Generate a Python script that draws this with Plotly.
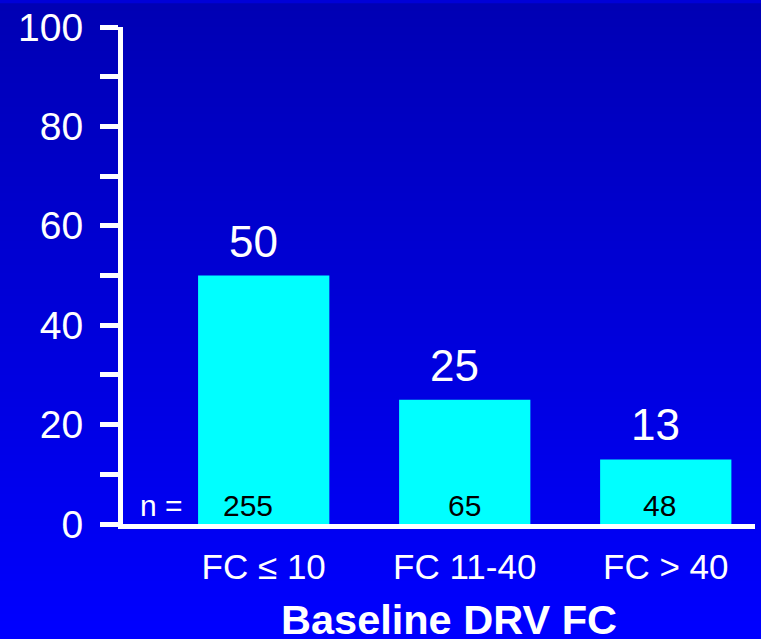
import plotly.graph_objects as go

# ---- data ----
categories = ["FC \u2264 10", "FC 11-40", "FC > 40"]
percent = [50, 25, 13]
n_values = [255, 65, 48]
y_tick_vals = list(range(0, 101, 10))
y_tick_text = [str(v) if v % 20 == 0 else "" for v in y_tick_vals]
x_title = "Baseline DRV FC"
n_prefix = "n ="

# label nudges (style only, pixels)
n_label_shift = [-16, 0, -6]
value_label_shift = -10

FONT = "Arial, Liberation Sans, sans-serif"
W, H = 761, 639
ML, MR, MT, MB = 123, 6, 23, 115
PW, PH = W - ML - MR, H - MT - MB

fig = go.Figure()
fig.add_trace(go.Bar(
    x=categories, y=percent,
    marker=dict(color="#00FFFF", line=dict(width=0)),
    width=0.653, hoverinfo="x+y",
))

# gradient background bands (paper coordinates)
nb = 80
top_c, bot_c = 0xB4, 0xFF
y_top = 1 + MT / PH
y_bot = -MB / PH
shapes = []
for i in range(nb):
    f0 = i / nb
    f1 = (i + 1) / nb
    c = int(round(top_c + (bot_c - top_c) * (i + 0.5) / nb))
    shapes.append(dict(
        type="rect", xref="paper", yref="paper",
        x0=-ML / PW - 0.01, x1=1 + MR / PW + 0.01,
        y0=y_top - (y_top - y_bot) * f1 - 0.002,
        y1=y_top - (y_top - y_bot) * f0 + 0.002,
        fillcolor=f"rgb(0,0,{c})", line=dict(width=0), layer="below",
    ))

annotations = []
for cat, v in zip(categories, percent):
    annotations.append(dict(
        x=cat, y=v, xref="x", yref="y", text=str(v), showarrow=False,
        xanchor="center", yanchor="bottom", yshift=8, xshift=value_label_shift,
        font=dict(family=FONT, size=44, color="white"),
    ))
for cat, n, dx in zip(categories, n_values, n_label_shift):
    annotations.append(dict(
        x=cat, y=0, xref="x", yref="y", text=str(n), showarrow=False,
        xanchor="center", yanchor="bottom", yshift=0, xshift=dx,
        font=dict(family=FONT, size=30, color="black"),
    ))
annotations.append(dict(
    x=(161 - ML) / PW, y=0, xref="paper", yref="y", text=n_prefix,
    showarrow=False, xanchor="center", yanchor="bottom", yshift=0,
    font=dict(family=FONT, size=30, color="white"),
))
annotations.append(dict(
    x=(449 - ML) / PW, y=(MT + PH - 620) / PH, xref="paper", yref="paper",
    text=f"<b>{x_title}</b>", showarrow=False, xanchor="center", yanchor="middle",
    font=dict(family=FONT, size=41.5, color="white"),
))

fig.update_layout(
    width=W, height=H, autosize=False,
    margin=dict(l=ML, r=MR, t=MT, b=MB, pad=0),
    paper_bgcolor="#0000D8", plot_bgcolor="rgba(0,0,0,0)",
    showlegend=False, bargap=0.3,
    shapes=shapes, annotations=annotations,
    font=dict(family=FONT, color="white"),
)
fig.update_xaxes(
    type="category", range=[-0.70, 2.444],
    showline=True, linecolor="white", linewidth=5,
    ticks="", showgrid=False, zeroline=False,
    tickfont=dict(family=FONT, size=35, color="white"),
    ticklabelstandoff=8,
)
fig.update_yaxes(
    range=[0, 100], tickvals=y_tick_vals, ticktext=y_tick_text,
    showline=True, linecolor="white", linewidth=5,
    ticks="outside", ticklen=18, tickwidth=5, tickcolor="white",
    showgrid=False, zeroline=False,
    tickfont=dict(family=FONT, size=39, color="white"),
    ticklabelstandoff=9,
)

fig.write_html(
    "out.html",
    config={"displayModeBar": False},
    post_script="document.body.style.margin='0';document.body.style.overflow='hidden';",
)
